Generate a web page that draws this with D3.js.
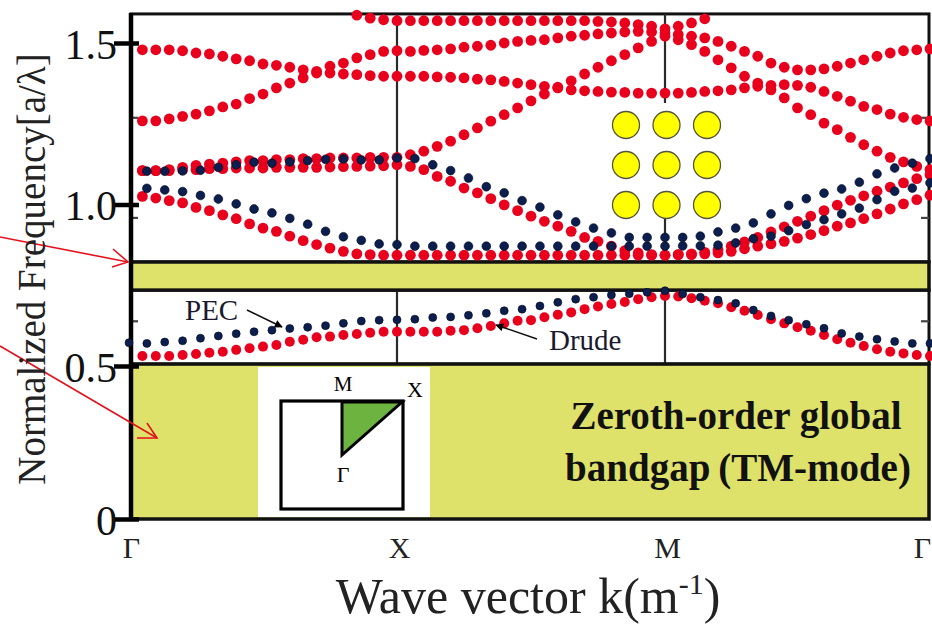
<!DOCTYPE html>
<html>
<head>
<meta charset="utf-8">
<script src="https://cdn.jsdelivr.net/npm/d3@7"></script>
<style>
  html, body { margin: 0; padding: 0; background: #fff; }
  svg { display: block; }
  svg text { font-family: "Liberation Serif", "Times New Roman", "DejaVu Serif", serif; }
</style>
</head>
<body>
<svg id="chart" width="932" height="624"></svg>
<script>
// symmetry points along the Brillouin-zone path
const symPoints = ["Γ", "X", "M", "Γ"];
const yTicks = [0, 0.5, 1.0, 1.5];
const yTickLabels = ["0", "0.5", "1.0", "1.5"];
const yMinorTicks = [1.27, 0.96, 0.64];
const yTop = 1.59;

// band gaps (normalized frequency)
const gapUpper = [0.735, 0.822];
const gapZeroth = [0, 0.506];

// Drude bands, 20 samples per segment (k = i/20), upper panel
const drudeTop1 = [null, 1.025, 1.020, 1.012, 1.005, 0.991, 0.981, 0.968, 0.956, 0.940, 0.927, 0.917, 0.902, 0.888, 0.876, 0.865, 0.855, 0.847, 0.845, 0.843, 0.843,
  0.843, 0.843, 0.843, 0.843, 0.843, 0.843, 0.843, 0.843, 0.843, 0.843, 0.843, 0.843, 0.843, 0.843, 0.843, 0.843, 0.843, 0.843, 0.843, 0.843,
  0.845, 0.845, 0.847, 0.850, 0.855, 0.863, 0.871, 0.878, 0.886, 0.896, 0.907, 0.919, 0.933, 0.943, 0.956, 0.971, 0.986, 1.002, 1.015, 1.029];
const drudeTop2 = [null, 1.105, 1.105, 1.105, 1.108, 1.108, 1.111, 1.111, 1.113, 1.113, 1.113, 1.115, 1.115, 1.115, 1.115, 1.116, 1.117, 1.118, 1.119, 1.120, 1.123,
  1.118, 1.108, 1.087, 1.072, 1.051, 1.036, 1.018, 0.999, 0.981, 0.964, 0.948, 0.933, 0.917, 0.898, 0.886, 0.871, 0.857, 0.850, 0.845, 0.843,
  0.845, 0.847, 0.852, 0.860, 0.871, 0.884, 0.898, 0.915, 0.931, 0.948, 0.964, 0.981, 0.998, 1.013, 1.027, 1.041, 1.054, 1.067, 1.080, 1.092];
const drudeTop3 = [null, 1.105, 1.105, 1.108, 1.115, 1.121, 1.125, 1.128, 1.132, 1.136, 1.136, 1.139, 1.139, 1.142, 1.142, 1.144, 1.144, 1.144, 1.146, 1.146, 1.146,
  1.154, 1.165, 1.180, 1.196, 1.216, 1.237, 1.258, 1.278, 1.299, 1.321, 1.342, 1.363, 1.383, 1.404, 1.425, 1.445, 1.464, 1.485, 1.505, 1.521,
  1.510, 1.495, 1.474, 1.448, 1.423, 1.397, 1.376, 1.355, 1.330, 1.299, 1.278, 1.252, 1.232, 1.208, 1.185, 1.165, 1.146, 1.132, 1.118, 1.108];
const drudeTop4 = [null, 1.259, 1.259, 1.265, 1.273, 1.280, 1.290, 1.302, 1.311, 1.328, 1.342, 1.361, 1.376, 1.392, 1.407, 1.407, 1.404, 1.402, 1.399, 1.397, 1.397,
  1.397, 1.397, 1.395, 1.394, 1.392, 1.388, 1.386, 1.381, 1.376, 1.371, 1.366, 1.361, 1.355, 1.352, 1.350, 1.348, 1.347, 1.345, 1.345, 1.345,
  1.345, 1.347, 1.350, 1.352, 1.355, 1.361, 1.366, 1.369, 1.371, 1.369, 1.363, 1.350, 1.335, 1.320, 1.304, 1.294, 1.280, 1.270, 1.263, 1.259];
const drudeTop5 = [null, 1.479, 1.479, 1.479, 1.476, 1.469, 1.466, 1.459, 1.451, 1.445, 1.435, 1.431, 1.425, 1.417, 1.412, 1.428, 1.438, 1.454, 1.464, 1.474, 1.476,
  1.474, 1.477, 1.479, 1.482, 1.487, 1.490, 1.493, 1.500, 1.505, 1.508, 1.510, 1.516, 1.521, 1.524, 1.528, 1.531, 1.534, 1.536, 1.534, 1.531,
  1.526, 1.521, 1.516, 1.505, 1.490, 1.474, 1.459, 1.438, 1.425, 1.417, 1.417, 1.420, 1.428, 1.438, 1.448, 1.459, 1.469, 1.476, 1.479, 1.482];
const drudeTop6 = [null, null, null, null, null, null, null, null, null, null, null, null, null, null, null, null, null, 1.586, 1.577, 1.572, 1.569,
  1.569, 1.569, 1.569, 1.569, 1.569, 1.569, 1.569, 1.569, 1.569, 1.569, 1.569, 1.569, 1.569, 1.569, 1.567, 1.565, 1.562, 1.557, 1.552, 1.544,
  1.552, 1.562, 1.575, null, null, null, null, null, null, null, null, null, null, null, null, null, null, null, null, null];

// PEC bands, 15 samples per segment (k = i/15), upper panel
const pecTop1 = [null, 1.050, 1.045, 1.040, 1.028, 1.017, 1.002, 0.986, 0.974, 0.957, 0.939, 0.917, 0.900, 0.889, 0.878, 0.876,
  0.871, 0.871, 0.871, 0.871, 0.871, 0.871, 0.871, 0.871, 0.871, 0.871, 0.871, 0.871, 0.871, 0.871, 0.871,
  0.872, 0.872, 0.874, 0.881, 0.894, 0.902, 0.919, 0.938, 0.953, 0.971, 0.989, 1.015, 1.041, 1.051, 1.067];
const pecTop2 = [null, 1.103, 1.103, 1.104, 1.106, 1.115, 1.123, 1.131, 1.128, 1.132, 1.136, 1.140, 1.141, 1.138, 1.138, 1.144,
  1.142, 1.123, 1.105, 1.082, 1.055, 1.036, 1.012, 0.992, 0.968, 0.946, 0.927, 0.912, 0.898, 0.898, 0.898,
  0.898, 0.902, 0.915, 0.927, 0.943, 0.971, 0.997, 1.018, 1.035, 1.048, 1.069, 1.095, 1.113, 1.128, 1.142];

// lowest band, middle panel
const drudeLow = [null, 0.531, 0.531, 0.531, 0.534, 0.537, 0.541, 0.544, 0.550, 0.555, 0.560, 0.565, 0.575, 0.581, 0.589, 0.591, 0.596, 0.599, 0.603, 0.606, 0.606,
  0.606, 0.606, 0.606, 0.609, 0.611, 0.617, 0.624, 0.632, 0.640, 0.642, 0.651, 0.659, 0.666, 0.676, 0.684, 0.692, 0.698, 0.707, 0.713, 0.717,
  0.715, 0.710, 0.702, 0.694, 0.682, 0.671, 0.658, 0.645, 0.632, 0.620, 0.609, 0.596, 0.583, 0.572, 0.562, 0.552, 0.544, 0.539, 0.534, 0.531];
const pecLow = [0.572, 0.570, 0.574, 0.578, 0.586, 0.593, 0.600, 0.606, 0.611, 0.616, 0.620, 0.625, 0.632, 0.639, 0.642, 0.643,
  0.645, 0.650, 0.652, 0.657, 0.663, 0.671, 0.676, 0.686, 0.697, 0.707, 0.713, 0.720, 0.724, 0.728, 0.733,
  0.723, 0.713, 0.704, 0.694, 0.673, 0.655, 0.642, 0.629, 0.617, 0.601, 0.591, 0.583, 0.576, 0.570, 0.570];

const drudeTop = [drudeTop1, drudeTop2, drudeTop3, drudeTop4, drudeTop5, drudeTop6];
const pecTop = [pecTop1, pecTop2];

// colours + font
const RED = '#e8061f';
const NAVY = '#0c1e4d';
const GAP_YELLOW = '#dfe26a';
const SERIF = '"Liberation Serif", "Times New Roman", "DejaVu Serif", serif';

const x = d3.scaleLinear().domain([0, 1, 2, 3]).range([129, 397, 665, 930]);
const y = d3.scaleLinear().domain([0, 0.5, 1.5]).range([519, 366, 43]);

const svg = d3.select('#chart');
const defs = svg.append('defs');
defs.append('filter').attr('id', 'soft')
  .attr('x', '-50%').attr('y', '-50%').attr('width', '200%').attr('height', '200%')
  .append('feGaussianBlur').attr('stdDeviation', 0.7);
defs.append('marker').attr('id', 'blackHead')
  .attr('viewBox', '0 0 10 10').attr('refX', 9).attr('refY', 5)
  .attr('markerWidth', 9).attr('markerHeight', 8).attr('orient', 'auto')
  .attr('markerUnits', 'userSpaceOnUse')
  .append('path').attr('d', 'M0,0 L10,5 L0,10 Z').attr('fill', '#000');

const root = svg.append('g').attr('font-family', SERIF);

const left = x(0) + 2, right = x(3) - 1;
const frameW = right - left;

// top and middle panels
const panels = [[yTop, gapUpper[1]], [gapUpper[0], gapZeroth[1]]];
root.selectAll('rect.panel').data(panels).join('rect')
  .attr('class', 'panel')
  .attr('x', left).attr('y', d => y(d[0]))
  .attr('width', frameW).attr('height', d => y(d[1]) - y(d[0]))
  .attr('fill', '#fff').attr('stroke', '#111').attr('stroke-width', 3);

// X and M verticals
panels.forEach(p => {
  root.append('g').selectAll('line').data([1, 2]).join('line')
    .attr('x1', d => x(d)).attr('x2', d => x(d))
    .attr('y1', y(p[0])).attr('y2', y(p[1]))
    .attr('stroke', '#2a2a2a').attr('stroke-width', 2.2);
});

// gap bands
root.selectAll('rect.gap').data([gapUpper, gapZeroth]).join('rect')
  .attr('class', 'gap')
  .attr('x', left).attr('y', d => y(d[1]))
  .attr('width', frameW).attr('height', d => y(d[0]) - y(d[1]))
  .attr('fill', GAP_YELLOW).attr('stroke', '#111').attr('stroke-width', 3.5);

// Brillouin zone inset
const bz = root.append('g');
bz.append('rect').attr('x', 258).attr('y', 367).attr('width', 172).attr('height', 150).attr('fill', '#fff');
bz.append('rect').attr('x', 281).attr('y', 401).attr('width', 122).attr('height', 108)
  .attr('fill', 'none').attr('stroke', '#000').attr('stroke-width', 3.2);
bz.append('path').attr('d', 'M342,402 L402,402 L342,455 Z')
  .attr('fill', '#6db33f').attr('stroke', '#000').attr('stroke-width', 3);
bz.append('text').attr('x', 343).attr('y', 391).attr('text-anchor', 'middle').attr('font-size', 21).text('M');
bz.append('text').attr('x', 415).attr('y', 397).attr('text-anchor', 'middle').attr('font-size', 22).text('X');
bz.append('text').attr('x', 343).attr('y', 482).attr('text-anchor', 'middle').attr('font-size', 22).text('Γ');

// rod lattice inset
const lattice = root.append('g');
lattice.append('rect').attr('x', 608).attr('y', 103).attr('width', 116).attr('height', 115).attr('fill', '#fff');
const rods = d3.cross([-1, 0, 1], [-1, 0, 1]);
lattice.selectAll('circle').data(rods).join('circle')
  .attr('cx', d => 666.5 + d[0] * 40.5).attr('cy', d => 165 + d[1] * 40)
  .attr('r', 13.5).attr('fill', '#ffff00').attr('stroke', '#55553c').attr('stroke-width', 1.3);

// y axis
const yAxis = d3.axisLeft(y).tickValues(yTicks)
  .tickFormat((d, i) => yTickLabels[i]).tickSize(25).tickPadding(-3);
const gy = root.append('g').attr('transform', 'translate(139,0)').call(yAxis);
gy.attr('font-family', SERIF);
gy.select('.domain').remove();
gy.selectAll('.tick line').attr('stroke', '#000').attr('stroke-width', 4.5);
gy.selectAll('.tick text').attr('font-size', 42).attr('fill', '#111').attr('dy', '0.36em');

// minor ticks, both sides
const gMinL = root.append('g').attr('transform', `translate(${left},0)`)
  .call(d3.axisRight(y).tickValues(yMinorTicks).tickSize(7).tickFormat(''));
const gMinR = root.append('g').attr('transform', `translate(${right},0)`)
  .call(d3.axisLeft(y).tickValues(yMinorTicks).tickSize(8).tickFormat(''));
[gMinL, gMinR].forEach(g => {
  g.select('.domain').remove();
  g.selectAll('.tick line').attr('stroke', '#444').attr('stroke-width', 2.2);
});

// thick left axis line
root.append('line').attr('x1', left).attr('x2', left)
  .attr('y1', y(yTop) - 1).attr('y2', y(0) + 2)
  .attr('stroke', '#000').attr('stroke-width', 4.5);

// x axis labels
const xAxis = d3.axisBottom(x).tickValues([0, 1, 2, 3])
  .tickFormat((d, i) => symPoints[i]).tickSize(0).tickPadding(16);
const gx = root.append('g').attr('transform', 'translate(2,521)').call(xAxis);
gx.attr('font-family', SERIF);
gx.select('.domain').remove();
gx.selectAll('.tick text').attr('font-size', 30).attr('fill', '#222')
  .attr('dx', (d, i) => i === 3 ? -10 : 0);

// dots
const toPoints = (arr, n) => arr.map((f, i) => ({ k: i / n, f })).filter(d => d.f != null);

const redG = root.append('g').attr('filter', 'url(#soft)');
drudeTop.forEach(band => {
  redG.append('g').selectAll('circle').data(toPoints(band, 20)).join('circle')
    .attr('cx', d => x(d.k)).attr('cy', d => y(d.f)).attr('r', 5.4).attr('fill', RED);
});
redG.append('g').selectAll('circle').data(toPoints(drudeLow, 20)).join('circle')
  .attr('cx', d => x(d.k)).attr('cy', d => y(d.f)).attr('r', 5).attr('fill', RED);

const navyG = root.append('g');
pecTop.forEach(band => {
  navyG.append('g').selectAll('circle').data(toPoints(band, 15)).join('circle')
    .attr('cx', d => x(d.k)).attr('cy', d => y(d.f)).attr('r', 4.4)
    .attr('fill', NAVY).attr('stroke', '#02081c').attr('stroke-width', 0.6);
});
navyG.append('g').selectAll('circle').data(toPoints(pecLow, 15)).join('circle')
  .attr('cx', d => x(d.k)).attr('cy', d => y(d.f)).attr('r', 4)
  .attr('fill', NAVY).attr('stroke', '#02081c').attr('stroke-width', 0.6);

// PEC / Drude labels
root.append('text').attr('x', 185).attr('y', 320).attr('font-size', 29).attr('fill', '#1a1a2e').text('PEC');
root.append('line').attr('x1', 247).attr('y1', 310).attr('x2', 282).attr('y2', 327)
  .attr('stroke', '#111').attr('stroke-width', 1.4).attr('marker-end', 'url(#blackHead)');
root.append('text').attr('x', 549).attr('y', 350).attr('font-size', 29).attr('fill', '#1a1a2e').text('Drude');
root.append('line').attr('x1', 537).attr('y1', 339).attr('x2', 496).attr('y2', 325)
  .attr('stroke', '#111').attr('stroke-width', 1.4).attr('marker-end', 'url(#blackHead)');

// zeroth-order gap text
const gapText = root.append('text').attr('text-anchor', 'middle')
  .attr('font-weight', 'bold').attr('font-size', 39).attr('fill', '#111');
gapText.append('tspan').attr('x', 736).attr('y', 429).text('Zeroth-order global');
gapText.append('tspan').attr('x', 738).attr('y', 481).text('bandgap\u2009(TM-mode)');

// red pointer arrows
const redArrows = [
  { from: [0, 237], to: [128, 262], head: [[113, 249], [112, 267]] },
  { from: [0, 346], to: [157, 438], head: [[147, 423], [137, 438]] }
];
redArrows.forEach(a => {
  root.append('line').attr('x1', a.from[0]).attr('y1', a.from[1]).attr('x2', a.to[0]).attr('y2', a.to[1])
    .attr('stroke', '#e3121c').attr('stroke-width', 1.6);
  root.append('path')
    .attr('d', `M${a.head[0][0]},${a.head[0][1]} L${a.to[0]},${a.to[1]} L${a.head[1][0]},${a.head[1][1]}`)
    .attr('fill', 'none').attr('stroke', '#e3121c').attr('stroke-width', 1.6);
});

// axis titles
root.append('text')
  .attr('transform', 'translate(45,269) rotate(-90)')
  .attr('text-anchor', 'middle').attr('font-size', 39).attr('fill', '#222')
  .text('Normalized  Frequency[a/λ]');

const xt = root.append('text').attr('x', 528).attr('y', 613)
  .attr('text-anchor', 'middle').attr('font-size', 50).attr('fill', '#222');
xt.append('tspan').text('Wave vector k(m');
xt.append('tspan').attr('font-size', 30).attr('dy', -19).text('-1');
xt.append('tspan').attr('dy', 19).text(')');
</script>
</body>
</html>
